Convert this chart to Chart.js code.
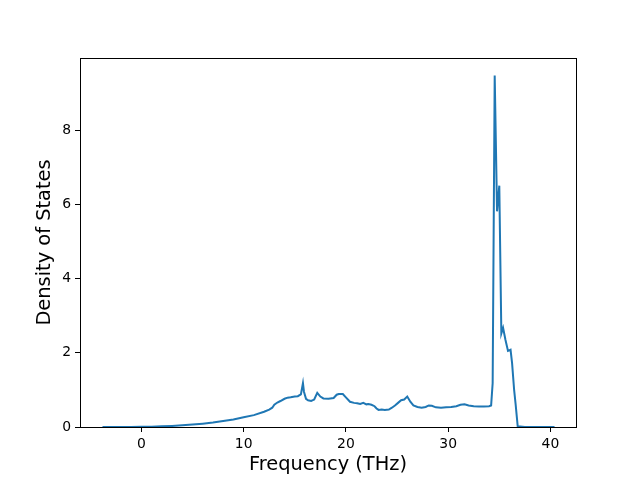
<!DOCTYPE html>
<html>
<head>
<meta charset="utf-8">
<script src="https://cdn.jsdelivr.net/npm/chart.js@4"></script>
<style>
  html, body { margin: 0; padding: 0; background: #fff; }
</style>
</head>
<body>
<canvas id="myChart" width="640" height="480"></canvas>
<script>
// phonon density of states
const freq = [-3.8, -3, -2, -1, 0, 1, 2, 3, 4, 5, 6, 7, 8, 9, 10, 11, 12, 12.5, 12.8, 13.0,
  13.3, 13.6, 14.0, 14.3, 14.6, 15.0, 15.3, 15.6, 15.8, 15.9, 16.1, 16.3, 16.6, 16.9, 17.2, 17.5,
  17.8, 18.3, 18.8, 19.1, 19.3, 19.7, 20.0, 20.4, 20.8, 21.1, 21.4, 21.7, 22.0, 22.2, 22.5, 22.8,
  23.0, 23.2, 23.5, 23.8, 24.2, 24.5, 24.8, 25.1, 25.4, 25.7, 26.0, 26.3, 26.6, 27.0, 27.4, 27.8,
  28.1, 28.4, 28.8, 29.3, 29.8, 30.3, 30.8, 31.2, 31.6, 32.0, 32.5, 33.0, 33.5, 34.0, 34.2, 34.35,
  34.55, 34.78, 35.0, 35.2, 35.37, 35.6, 35.85, 36.1, 36.25, 36.45, 36.6, 36.8, 37.5, 38.5, 39.5, 40.4];
const dos = [0, 0, 0, 0, 0.005, 0.01, 0.02, 0.03, 0.045, 0.065, 0.09, 0.12, 0.16, 0.2, 0.26, 0.32, 0.41, 0.47, 0.52, 0.6,
  0.66, 0.7, 0.76, 0.79, 0.8, 0.82, 0.83, 0.88, 1.18, 0.95, 0.76, 0.72, 0.7, 0.74, 0.92, 0.82,
  0.77, 0.76, 0.78, 0.87, 0.89, 0.89, 0.8, 0.68, 0.65, 0.64, 0.62, 0.65, 0.61, 0.62, 0.6, 0.56,
  0.5, 0.46, 0.47, 0.46, 0.47, 0.52, 0.58, 0.65, 0.72, 0.74, 0.82, 0.68, 0.58, 0.54, 0.52, 0.54,
  0.58, 0.57, 0.53, 0.52, 0.53, 0.54, 0.56, 0.6, 0.61, 0.58, 0.56, 0.55, 0.55, 0.56, 0.58, 1.18,
  9.47, 5.81, 6.5, 2.52, 2.67, 2.35, 2.05, 2.08, 1.72, 1.0, 0.6, 0.02, 0, 0, 0, 0];

const xTicks = [0, 10, 20, 30, 40];
const yTicks = [0, 2, 4, 6, 8];

const font = 'DejaVu Sans';

// full box around the axes, like matplotlib spines
const frame = {
  id: 'frame',
  afterDraw(chart) {
    const a = chart.chartArea;
    const c = chart.ctx;
    c.save();
    c.strokeStyle = '#000';
    c.lineWidth = 1;
    c.strokeRect(Math.round(a.left) + 0.5, Math.round(a.top) + 0.5,
      Math.round(a.right - a.left), Math.round(a.bottom - a.top));
    c.restore();
  }
};

const ctx = document.getElementById('myChart');

new Chart(ctx, {
  type: 'line',
  data: {
    datasets: [{
      label: 'DOS',
      data: freq.map((f, i) => ({ x: f, y: dos[i] })),
      borderColor: '#1f77b4',
      borderWidth: 2,
      pointRadius: 0,
      tension: 0,
      fill: false
    }]
  },
  plugins: [frame],
  options: {
    responsive: false,
    animation: false,
    layout: { padding: { top: 58, right: 64, left: 0, bottom: 0 } },
    plugins: {
      legend: { display: false },
      tooltip: { enabled: false }
    },
    scales: {
      x: {
        type: 'linear',
        min: -6.0,
        max: 42.5,
        afterBuildTicks: (s) => { s.ticks = xTicks.map(v => ({ value: v })); },
        afterFit: (s) => { s.height = 53; },
        grid: { display: true, drawOnChartArea: false, tickLength: 5, tickColor: '#000' },
        border: { color: '#000', width: 1 },
        ticks: { color: '#000', padding: 4, maxRotation: 0, font: { family: font, size: 13.9 } },
        title: {
          display: true,
          text: 'Frequency (THz)',
          color: '#000',
          font: { family: font, size: 19.4 },
          padding: { top: 0, bottom: 3 }
        }
      },
      y: {
        type: 'linear',
        min: 0,
        max: 9.94,
        afterBuildTicks: (s) => { s.ticks = yTicks.map(v => ({ value: v })); },
        afterFit: (s) => { s.width = 80; },
        grid: { display: true, drawOnChartArea: false, tickLength: 5, tickColor: '#000' },
        border: { color: '#000', width: 1 },
        ticks: { color: '#000', padding: 4, font: { family: font, size: 13.9 } },
        title: {
          display: true,
          text: 'Density of States',
          color: '#000',
          font: { family: font, size: 19.4 },
          padding: { top: 33, bottom: 0 }
        }
      }
    }
  }
});
</script>
</body>
</html>
